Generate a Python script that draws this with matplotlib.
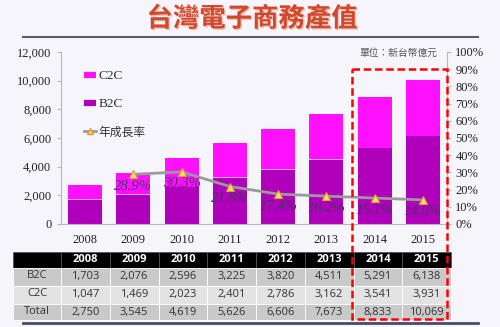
import matplotlib
matplotlib.use("Agg")
import matplotlib.pyplot as plt
from matplotlib.patches import Rectangle
from matplotlib.lines import Line2D
import matplotlib.patheffects as pe
import numpy as np

years = ["2008", "2009", "2010", "2011", "2012", "2013", "2014", "2015"]
b2c = [1703, 2076, 2596, 3225, 3820, 4511, 5291, 6138]
c2c = [1047, 1469, 2023, 2401, 2786, 3162, 3541, 3931]
total = [2750, 3545, 4619, 5626, 6606, 7673, 8833, 10069]
growth_years = ["2009", "2010", "2011", "2012", "2013", "2014", "2015"]
growth = [28.9, 30.3, 21.8, 17.4, 16.2, 15.1, 14.0]
row_labels = ["B2C", "C2C", "Total"]

title = "台灣電子商務產值"
unit_text = "單位：新台幣億元"

plt.rcParams["font.family"] = ["Liberation Serif", "Noto Sans CJK TC", "DejaVu Sans"]

W, H = 500, 327
fig = plt.figure(figsize=(5, 3.27), dpi=100)
fig.patch.set_facecolor("#f6f5fb")

cjk = ["Noto Sans CJK TC", "DejaVu Sans"]
sans = ["Open Sans", "DejaVu Sans"]

# main axes
ax = fig.add_axes([61 / W, 1 - 224 / H, (447 - 61) / W, (224 - 52) / H])
ax.set_facecolor("none")
x = np.arange(len(years))
bw = 0.70
ax.bar(x, b2c, bw, color="#b000bb", edgecolor="none", zorder=2)
ax.bar(x, c2c, bw, bottom=b2c, color="#ff10ff", edgecolor="none", zorder=2)
ax.bar(x, [40] * len(x), bw, bottom=[v - 20 for v in b2c], color="#e9a6ee", edgecolor="none", zorder=3)
ax.set_xlim(-0.5, len(years) - 0.5)
ax.set_ylim(0, 12000)
ax.set_yticks(range(0, 12001, 2000))
ax.set_yticklabels([f"{v:,}" for v in range(0, 12001, 2000)], fontsize=9, color="#222222")
ax.set_xticks(x)
ax.set_xticklabels(years, fontsize=9, color="#222222")
for s in ["top", "right"]:
    ax.spines[s].set_visible(False)
ax.spines["left"].set_color("#b8b8b8")
ax.spines["bottom"].set_color("#b8b8b8")
ax.tick_params(axis="y", length=3, color="#b8b8b8", pad=4)
ax.tick_params(axis="x", length=0, pad=7)

ax2 = ax.twinx()
ax2.set_ylim(0, 100)
ax2.set_yticks(range(0, 101, 10))
ax2.set_yticklabels([f"{v}%" for v in range(0, 101, 10)], fontsize=9, color="#222222")
for s in ["top", "left", "bottom"]:
    ax2.spines[s].set_visible(False)
ax2.spines["right"].set_color("#b8b8b8")
ax2.tick_params(axis="y", length=3, color="#b8b8b8", pad=3)
gx = [years.index(y) for y in growth_years]
ax2.plot(gx, growth, color="#9a9a9a", lw=2, marker="^", markersize=6,
         markerfacecolor="#f8e060", markeredgecolor="#e39a3a", markeredgewidth=0.8, zorder=5)
for xi, g in zip(gx, growth):
    ax2.text(xi, g - 7.0, f"{g:.1f}%", ha="center", va="center",
             fontstyle="italic", fontsize=10.5, color="#4a3468", zorder=6)

# legend
handles = [
    Line2D([], [], color="#ff10ff", lw=4.5, solid_capstyle="butt"),
    Line2D([], [], color="#b000bb", lw=4.5, solid_capstyle="butt"),
    Line2D([], [], color="#9a9a9a", lw=2, marker="^", markersize=5,
           markerfacecolor="#f8e060", markeredgecolor="#e39a3a"),
]
leg = ax.legend(handles, ["C2C", "B2C", "年成長率"], loc="upper left", bbox_to_anchor=(0.03, 0.965),
                frameon=False, labelspacing=1.2, handlelength=0.9, handletextpad=0.15,
                prop={"size": 9.5})
for t in leg.get_texts():
    t.set_color("#333333")
leg.get_texts()[2].set_fontfamily(cjk)
leg.get_texts()[2].set_fontsize(8.5)

# overlay in pixel coords
ov = fig.add_axes([0, 0, 1, 1], zorder=10)
ov.set_xlim(0, W)
ov.set_ylim(H, 0)
ov.axis("off")
ov.set_facecolor("none")

ov.text(252, 19, title, ha="center", va="center", fontfamily=cjk, fontsize=19,
        fontweight="bold", color="#d2482a",
        path_effects=[pe.withSimplePatchShadow(offset=(1, -1), shadow_rgbFace="#e8b8a8", alpha=0.8)])
ov.plot([23, 478], [37, 37], color="#5a5a70", lw=1.5)
ov.text(437, 53, unit_text, ha="right", va="center", fontfamily=cjk, fontsize=7, color="#555555")

# table
col_edges = [13, 61] + [61 + 48.75 * (i + 1) for i in range(len(years))]
row_y = [252, 268, 286, 304, 320]
fills = ["#000000", "#c9c9c9", "#e3e3e3", "#c9c9c9"]
for r in range(4):
    for c in range(len(col_edges) - 1):
        x0, x1 = col_edges[c], col_edges[c + 1]
        ov.add_patch(Rectangle((x0, row_y[r]), x1 - x0, row_y[r + 1] - row_y[r],
                               facecolor=fills[r], edgecolor="#ffffff" if r else "#555555", lw=0.6))
for c, yv in enumerate(years):
    cx = (col_edges[c + 1] + col_edges[c + 2]) / 2
    ov.text(cx, (row_y[0] + row_y[1]) / 2, yv, ha="center", va="center", color="white",
            fontfamily=sans, fontsize=8, fontweight="bold")
data_rows = [b2c, c2c, total]
for r, (lab, vals) in enumerate(zip(row_labels, data_rows)):
    cy = (row_y[r + 1] + row_y[r + 2]) / 2
    ov.text((col_edges[0] + col_edges[1]) / 2, cy - 1, lab, ha="center", va="center",
            color="#333333", fontfamily=sans, fontsize=8)
    for c, v in enumerate(vals):
        cx = (col_edges[c + 1] + col_edges[c + 2]) / 2
        ov.text(cx, cy, f"{v:,}", ha="center", va="center", color="#333333",
                fontfamily=sans, fontsize=8)
ov.plot([23, 478], [323, 323], color="#4a4a6a", lw=2)

# red dashed box
ov.add_patch(Rectangle((352, 69), 95, 250, facecolor="none", edgecolor="#ff0000",
                       lw=1.8, ls=(0, (3, 1.5))))

fig.savefig("out.png", dpi=100, facecolor=fig.get_facecolor())
